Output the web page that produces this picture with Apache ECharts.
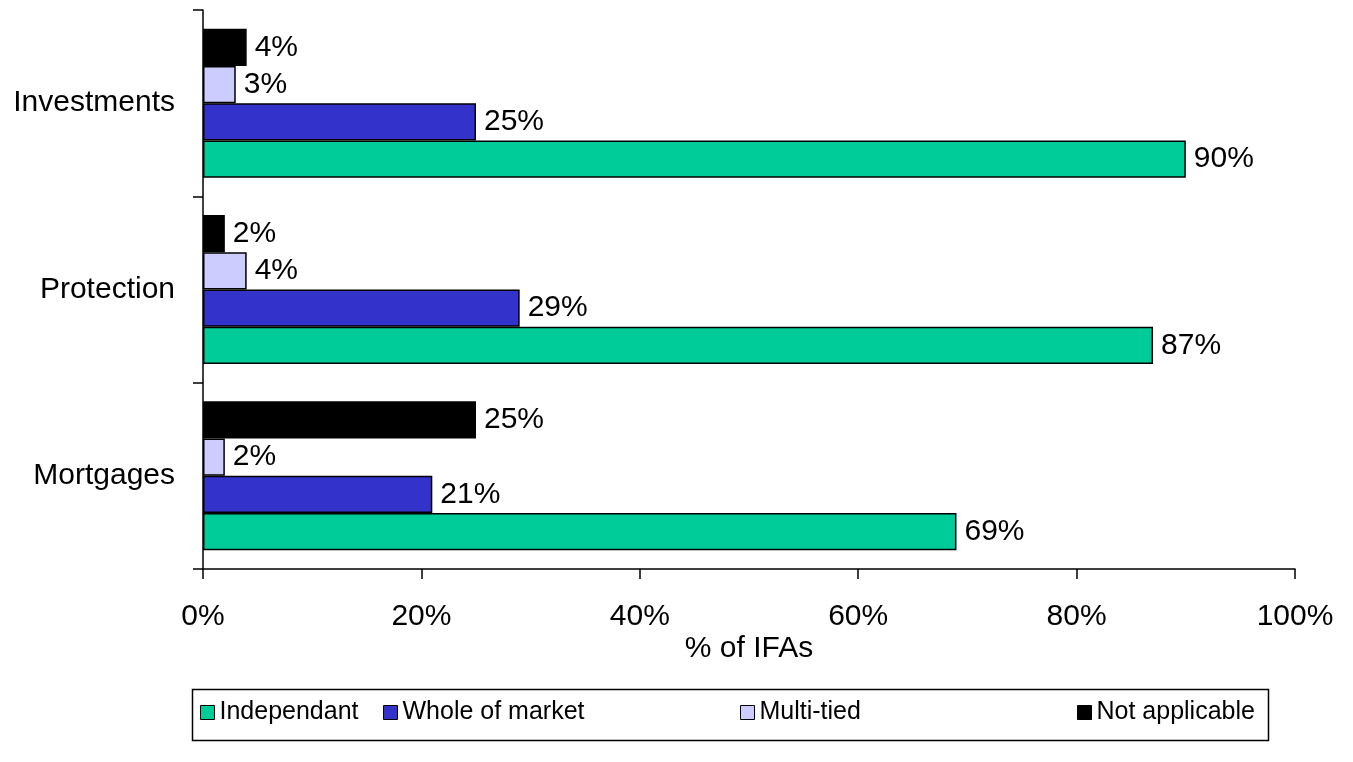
<!DOCTYPE html>
<html>
<head>
<meta charset="utf-8">
<script src="https://cdn.jsdelivr.net/npm/echarts@6/dist/echarts.min.js"></script>
<style>
html,body{margin:0;padding:0;background:#fff;}
#chart{width:1353px;height:762px;}
</style>
</head>
<body>
<div id="chart"></div>
<script>
var categories = ['Mortgages', 'Protection', 'Investments'];
var seriesNames = ['Independant', 'Whole of market', 'Multi-tied', 'Not applicable'];
var independant = [69, 87, 90];
var wholeOfMarket = [21, 29, 25];
var multiTied = [2, 4, 3];
var notApplicable = [25, 2, 4];
var xTicks = [0, 20, 40, 60, 80, 100];
var colors = ['#00CC99', '#3333CC', '#CCCCFF', '#000000'];

var font = 'Liberation Sans, Arial, sans-serif';
var values = [independant, wholeOfMarket, multiTied, notApplicable];
var legendLefts = [200, 383, 740, 1077];

// ECharts places horizontal bar groups top-down in series order; draw in reverse
// so that "Independant" sits at the bottom of each group as in the reference.
var order = [3, 2, 1, 0];

var chart = echarts.init(document.getElementById('chart'));
chart.setOption({
  animation: false,
  backgroundColor: '#ffffff',
  textStyle: {fontFamily: font, color: '#000'},
  grid: {left: 203, right: 58, top: 10, bottom: 193, containLabel: false},
  xAxis: {
    type: 'value', min: xTicks[0], max: xTicks[xTicks.length - 1], interval: 20,
    axisLine: {show: true, lineStyle: {color: '#000', width: 1.5}},
    axisTick: {show: true, length: 10, inside: false, lineStyle: {color: '#000', width: 1.5}},
    splitLine: {show: false},
    axisLabel: {formatter: '{value}%', fontSize: 30, color: '#000', fontFamily: font, margin: 33},
    name: '% of IFAs', nameLocation: 'middle', nameGap: 65, nameMoveOverlap: false,
    nameTextStyle: {fontSize: 30, color: '#000', fontFamily: font}
  },
  yAxis: {
    type: 'category', data: categories,
    axisLine: {show: true, lineStyle: {color: '#000', width: 1.5}},
    axisTick: {show: true, length: 10, inside: false, lineStyle: {color: '#000', width: 1.5}},
    axisLabel: {fontSize: 30, color: '#000', fontFamily: font, margin: 28},
    splitLine: {show: false}
  },
  graphic: [{
    type: 'rect', left: 190, top: 687,
    shape: {width: 1076, height: 51},
    style: {fill: 'none', stroke: '#000', lineWidth: 1.5}
  }],
  legend: seriesNames.map(function (name, i) {
    return {
      left: legendLefts[i], top: 700,
      data: [name],
      itemWidth: 14, itemHeight: 14, itemGap: 0,
      icon: 'rect',
      padding: 0,
      itemStyle: {borderColor: '#000', borderWidth: 1},
      textStyle: {fontSize: 25, color: '#000', fontFamily: font}
    };
  }),
  series: order.map(function (i) {
    return {
      name: seriesNames[i], type: 'bar', data: values[i],
      barGap: '0%', barCategoryGap: '20%',
      itemStyle: {color: colors[i], borderColor: '#000', borderWidth: 1.5},
      label: {show: true, position: 'right', distance: 8, formatter: '{c}%', fontSize: 30, color: '#000', fontFamily: font}
    };
  })
});
</script>
</body>
</html>
